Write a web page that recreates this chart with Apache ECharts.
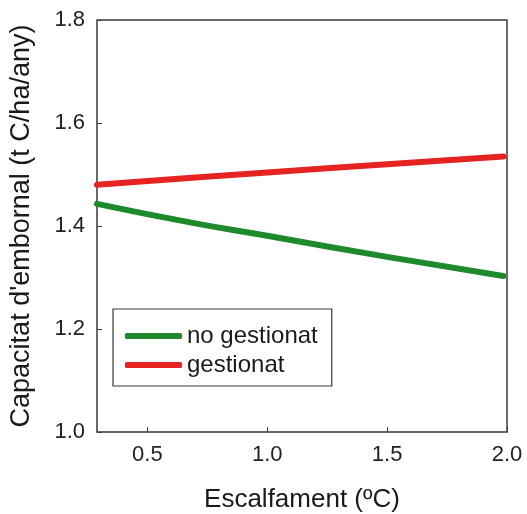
<!DOCTYPE html>
<html lang="ca">
<head>
<meta charset="UTF-8">
<title>Capacitat d'embornal</title>
<script src="https://cdn.jsdelivr.net/npm/echarts@6/dist/echarts.min.js"></script>
<style>
  html, body { margin: 0; padding: 0; background: #fff; }
  #chart { width: 527px; height: 514px; }
</style>
</head>
<body>
<div id="chart"></div>
<script>
    // escalfament (ºC)
    var escalfament = [0.29, 0.7, 1.0, 1.5, 1.985];
    var noGestionat = [1.443, 1.405, 1.381, 1.34, 1.303];
    var gestionat   = [1.480, 1.494, 1.504, 1.520, 1.535];
    var xTicks = [0.5, 1.0, 1.5, 2.0];
    var yTicks = [1.0, 1.2, 1.4, 1.6, 1.8];

    function pairs(xs, ys) {
        var out = [];
        for (var i = 0; i < xs.length; i++) out.push([xs[i], ys[i]]);
        return out;
    }

    var font = 'Liberation Sans, Arial, sans-serif';
    var chart = echarts.init(document.getElementById('chart'));
    chart.setOption({
        animation: false,
        grid: {
            left: 97, top: 20, right: 20, bottom: 82,
            outerBoundsMode: 'none',
            show: true, borderColor: '#3d3a38', borderWidth: 1.5
        },
        legend: {
            orient: 'vertical',
            left: 113, top: 309,
            padding: [15, 14, 9, 12],
            itemGap: 5,
            itemWidth: 57, itemHeight: 6,
            icon: 'roundRect',
            borderColor: '#3d3a38', borderWidth: 1.2,
            textStyle: { fontFamily: font, fontSize: 24, color: '#1a1a1a' },
            data: ['no gestionat', 'gestionat']
        },
        xAxis: {
            type: 'value',
            min: 0.29, max: 2.0,
            name: 'Escalfament (ºC)',
            nameLocation: 'middle', nameGap: 55,
            nameTextStyle: { fontFamily: font, fontSize: 26, color: '#1a1a1a' },
            axisLine: { show: false },
            splitLine: { show: false },
            axisTick: { inside: true, length: 5, customValues: xTicks, lineStyle: { color: '#3d3a38' } },
            axisLabel: {
                customValues: xTicks, margin: 12,
                fontFamily: font, fontSize: 22, color: '#222',
                formatter: function (v) { return v.toFixed(1); }
            }
        },
        yAxis: {
            type: 'value',
            min: 1.0, max: 1.8,
            name: "Capacitat d'embornal (t C/ha/any)",
            nameLocation: 'middle', nameGap: 62,
            nameTextStyle: { fontFamily: font, fontSize: 27, color: '#1a1a1a' },
            axisLine: { show: false },
            splitLine: { show: false },
            axisTick: { inside: true, length: 5, customValues: yTicks, lineStyle: { color: '#3d3a38' } },
            axisLabel: {
                customValues: yTicks, margin: 12,
                fontFamily: font, fontSize: 22, color: '#222',
                formatter: function (v) { return v.toFixed(1); }
            }
        },
        series: [
            {
                name: 'no gestionat', type: 'line',
                data: pairs(escalfament, noGestionat),
                showSymbol: false, smooth: true,
                itemStyle: { color: '#1f8a2c' },
                lineStyle: { color: '#1f8a2c', width: 6, cap: 'round' }
            },
            {
                name: 'gestionat', type: 'line',
                data: pairs(escalfament, gestionat),
                showSymbol: false, smooth: true,
                itemStyle: { color: '#e52421' },
                lineStyle: { color: '#e52421', width: 6, cap: 'round' }
            }
        ]
    });
</script>
</body>
</html>
